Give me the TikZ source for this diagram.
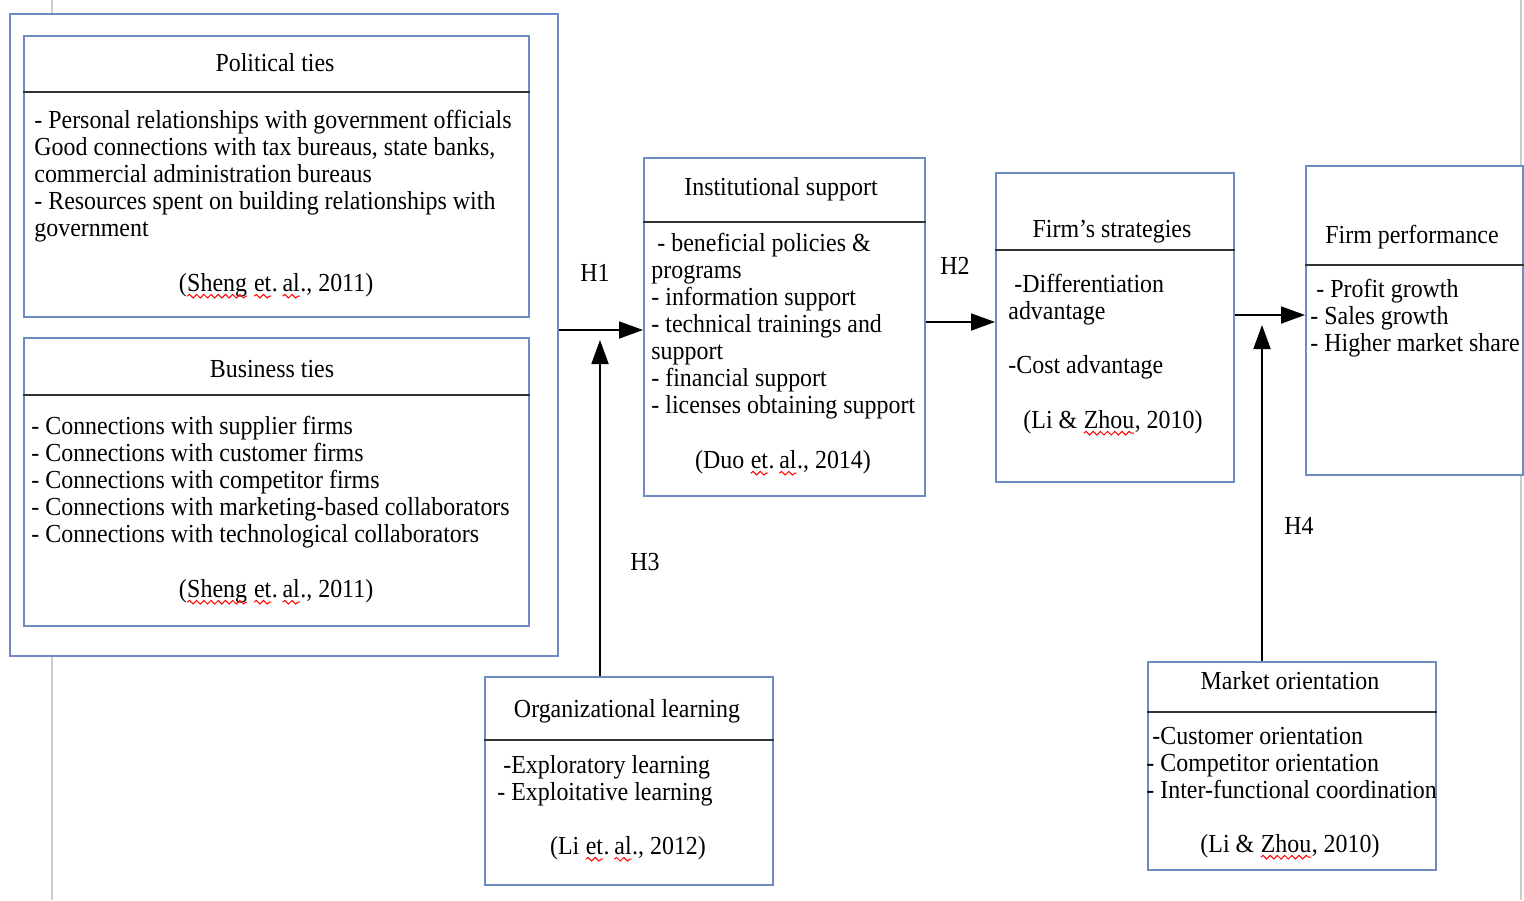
\documentclass[tikz,border=0pt]{standalone}
\usepackage{fontspec}
\setmainfont{Liberation Serif}[FakeStretch=0.92]
\usetikzlibrary{arrows.meta,decorations.pathmorphing}
\newcommand\sq[1]{\tikz[baseline=(sqw.base),x=1pt,y=1pt]{\node[inner sep=0pt,outer sep=0pt,anchor=base] (sqw) at (0,0) {#1};\draw[red,line width=0.5pt,decorate,decoration={snake,amplitude=0.9pt,segment length=3.6pt}] ([yshift=-2.6pt]sqw.base west) -- ([yshift=-2.6pt]sqw.base east);}}
\definecolor{boxblue}{RGB}{110,140,195}
\definecolor{divgray}{RGB}{50,50,50}
\begin{document}
\begin{tikzpicture}[x=0.5pt,y=-0.5pt,
  font=\fontsize{13}{13.5}\selectfont,
  box/.style={draw=boxblue,line width=1pt,fill=white,inner sep=0pt,anchor=north west,rectangle},
  divline/.style={draw=divgray,line width=1.2pt},
  ttl/.style={inner sep=0pt,anchor=base},
  body/.style={inner sep=0pt,anchor=north west,align=left},
  cite/.style={inner sep=0pt,anchor=base},
  lab/.style={inner sep=0pt,anchor=base},
  arr/.style={line width=0.9pt,-{Triangle[length=12pt,width=8.5pt]}},
  margin/.style={draw=black!20,line width=1pt}]
\useasboundingbox (0,0) rectangle (1524,900);
\fill[white] (0,0) rectangle (1524,900);
% page margin marks
\draw[margin] (52,0) -- (52,900);
\draw[margin] (1521,0) -- (1521,900);
% outer group
\node[box,minimum width=274pt,minimum height=321pt] (outer) at (9,13) {};
% political ties
\node[box,minimum width=252.5pt,minimum height=140.5pt] (pol) at (23,35) {};
\draw[divline] (pol.west |- 0,92) -- (pol.east |- 0,92);
\node[ttl] (polt) at (275,71) {Political ties};
\node[body] (polb) at (34,110) {- Personal relationships with government officials\\Good connections with tax bureaus, state banks,\\commercial administration bureaus\\- Resources spent on building relationships with\\government};
\node[cite] (polc) at (276,291) {(\sq{Sheng} \sq{et}.\,\sq{al}., 2011)};
% business ties
\node[box,minimum width=252.5pt,minimum height=144pt] (bus) at (23,337) {};
\draw[divline] (bus.west |- 0,395) -- (bus.east |- 0,395);
\node[ttl] (bust) at (272,377) {Business ties};
\node[body] (busb) at (31,416) {- Connections with supplier firms\\- Connections with customer firms\\- Connections with competitor firms\\- Connections with marketing-based collaborators\\- Connections with technological collaborators};
\node[cite] (busc) at (276,597) {(\sq{Sheng} \sq{et}.\,\sq{al}., 2011)};
% institutional support
\node[box,minimum width=140.5pt,minimum height=169pt] (inst) at (643,157) {};
\draw[divline] (inst.west |- 0,222) -- (inst.east |- 0,222);
\node[ttl] (instt) at (781,195) {Institutional support};
\node[body] (instb) at (651,233) {\hspace{3pt}- beneficial policies \&\\programs\\- information support\\- technical trainings and\\support\\- financial support\\- licenses obtaining support};
\node[cite] (instc) at (783,468) {(Duo \sq{et}.\,\sq{al}., 2014)};
% firm's strategies
\node[box,minimum width=119pt,minimum height=154.5pt] (strat) at (995,172) {};
\draw[divline] (strat.west |- 0,250) -- (strat.east |- 0,250);
\node[ttl] (stratt) at (1112,237) {Firm's strategies};
\node[body] (stratb) at (1008,274) {\hspace{3pt}-Differentiation\\advantage\\[13.5pt]-Cost advantage};
\node[cite] (stratc) at (1113,428) {(Li \& \sq{Zhou}, 2010)};
% firm performance
\node[box,minimum width=108.5pt,minimum height=154.5pt] (perf) at (1305,165) {};
\draw[divline] (perf.west |- 0,265) -- (perf.east |- 0,265);
\node[ttl] (perft) at (1412,243) {Firm performance};
\node[body] (perfb) at (1310,279) {\hspace{3pt}- Profit growth\\- Sales growth\\- Higher market share};
% organizational learning
\node[box,minimum width=144pt,minimum height=104pt] (org) at (484,676) {};
\draw[divline] (org.west |- 0,740) -- (org.east |- 0,740);
\node[ttl] (orgt) at (627,717) {Organizational learning};
\node[body] (orgb) at (497,755) {\hspace{3pt}-Exploratory learning\\- Exploitative learning};
\node[cite] (orgc) at (628,854) {(Li \sq{et}.\,\sq{al}., 2012)};
% market orientation
\node[box,minimum width=144pt,minimum height=104pt] (mkt) at (1147,661) {};
\draw[divline] (mkt.west |- 0,712) -- (mkt.east |- 0,712);
\node[ttl] (mktt) at (1290,689) {Market orientation};
\node[body] (mktb) at (1146,727) {\hspace{3pt}-Customer orientation\\- Competitor orientation\\- Inter-functional coordination};
\node[cite] (mktc) at (1290,852) {(Li \& \sq{Zhou}, 2010)};
% connectors
\coordinate (h1y) at (0,330);
\draw[arr] (outer.east |- h1y) -- (inst.west |- h1y);
\coordinate (h2y) at (0,322);
\draw[arr] (inst.east |- h2y) -- (strat.west |- h2y);
\coordinate (h4y) at (0,315);
\draw[arr] (strat.east |- h4y) -- (perf.west |- h4y);
\coordinate (h3tip) at (600,340);
\draw[arr] (org.north -| h3tip) -- (h3tip);
\coordinate (h4tip) at (1262,325);
\draw[arr] (mkt.north -| h4tip) -- (h4tip);
% labels
\node[lab] (h1) at (595,281) {H1};
\node[lab] (h2) at (955,274) {H2};
\node[lab] (h3) at (645,570) {H3};
\node[lab] (h4) at (1299,534) {H4};
\end{tikzpicture}
\end{document}
